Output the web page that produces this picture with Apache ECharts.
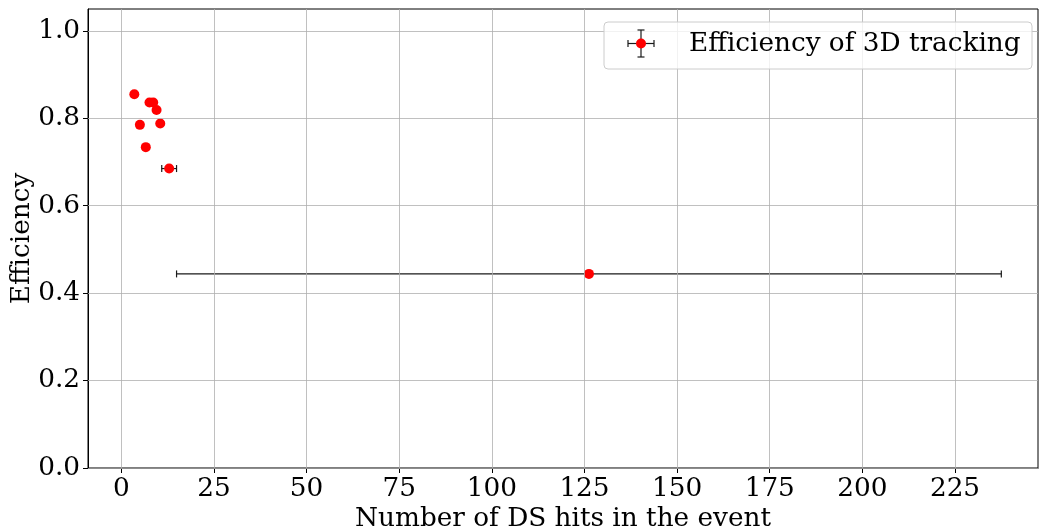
<!DOCTYPE html>
<html><head><meta charset="utf-8">
<script src="https://cdn.jsdelivr.net/npm/echarts@6/dist/echarts.min.js"></script>
<style>html,body{margin:0;padding:0;background:#fff}#c{width:1039px;height:531px}</style>
</head><body><div id="c"></div>
<script>
const xVals = [3.5, 5.0, 6.6, 7.6, 8.6, 9.5, 10.5, 12.9, 126.2];
const yVals = [0.855, 0.785, 0.734, 0.836, 0.836, 0.819, 0.788, 0.685, 0.444];
const xErr  = [0.5, 0.5, 0.5, 0.5, 0.5, 0.5, 0.5, 2.0, 111.3];
const yErr  = [0.004, 0.004, 0.004, 0.004, 0.004, 0.004, 0.004, 0.004, 0.002];
const xTicks = [0, 25, 50, 75, 100, 125, 150, 175, 200, 225];
const yTicks = [0.0, 0.2, 0.4, 0.6, 0.8, 1.0];
const seriesName = 'Efficiency of 3D tracking';

const FONT = 'DejaVu Serif';
const FS = 26.3;
const pts = xVals.map((x, i) => [x, yVals[i]]);
const errData = xVals.map((x, i) => [x, yVals[i], x - xErr[i], x + xErr[i], yVals[i] - yErr[i], yVals[i] + yErr[i]]);

const chart = echarts.init(document.getElementById('c'), null, {renderer: 'canvas'});
const cap = 3.5;
chart.setOption({
  animation: false,
  grid: {left: 88, right: 1, top: 9, bottom: 63, outerBoundsMode: 'none', containLabel: false,
    show: true, borderColor: '#000', borderWidth: 1, backgroundColor: 'transparent'},
  xAxis: {
    type: 'value', min: -9, max: 247.4,
    name: 'Number of DS hits in the event', nameLocation: 'middle', nameGap: 38, nameMoveOverlap: false,
    nameTextStyle: {fontFamily: FONT, fontSize: FS, color: '#000'},
    axisLine: {show: true, onZero: false, lineStyle: {color: '#000', width: 1}},
    axisTick: {show: true, length: 5, inside: false, customValues: xTicks, lineStyle: {color: '#000'}},
    axisLabel: {customValues: xTicks, fontFamily: FONT, fontSize: FS, color: '#000', margin: 8},
    splitLine: {show: false}
  },
  yAxis: {
    type: 'value', min: 0, max: 1.05,
    name: 'Efficiency', nameLocation: 'middle', nameGap: 53, nameMoveOverlap: false,
    nameTextStyle: {fontFamily: FONT, fontSize: FS, color: '#000'},
    axisLine: {show: true, onZero: false, lineStyle: {color: '#000', width: 1}},
    axisTick: {show: true, length: 5, customValues: yTicks, lineStyle: {color: '#000'}},
    axisLabel: {customValues: yTicks, fontFamily: FONT, fontSize: FS, color: '#000', margin: 8,
      formatter: v => Number(v).toFixed(1)},
    splitLine: {show: false}
  },
  series: [
    {
      type: 'line', silent: true, data: [],
      markLine: {
        silent: true, symbol: 'none', label: {show: false},
        lineStyle: {color: '#b0b0b0', width: 0.8, type: 'solid'},
        data: xTicks.map(v => ({xAxis: v})).concat(yTicks.map(v => ({yAxis: v})))
      }
    },
    {
      type: 'custom', name: seriesName, data: errData, z: 3,
      renderItem: function (params, api) {
        const y = api.value(1);
        const pl = api.coord([api.value(2), y]);
        const pr = api.coord([api.value(3), y]);
        const pb = api.coord([api.value(0), api.value(4)]);
        const pt = api.coord([api.value(0), api.value(5)]);
        const st = {stroke: '#1a1a1a', lineWidth: 1.2};
        return {type: 'group', children: [
          {type: 'line', shape: {x1: pl[0], y1: pl[1], x2: pr[0], y2: pr[1]}, style: st},
          {type: 'line', shape: {x1: pl[0], y1: pl[1] - cap, x2: pl[0], y2: pl[1] + cap}, style: st},
          {type: 'line', shape: {x1: pr[0], y1: pr[1] - cap, x2: pr[0], y2: pr[1] + cap}, style: st},
          {type: 'line', shape: {x1: pb[0], y1: pb[1], x2: pt[0], y2: pt[1]}, style: st}
        ]};
      }
    },
    {
      type: 'scatter', name: seriesName, data: pts, symbol: 'circle', symbolSize: 10, z: 4,
      itemStyle: {color: '#ff0000', opacity: 1}
    }
  ],
  graphic: [
    {type: 'rect', shape: {x: 604, y: 22, width: 428, height: 47, r: 4},
      style: {fill: 'rgba(255,255,255,0.8)', stroke: '#cccccc', lineWidth: 1}, z: 10},
    {type: 'line', shape: {x1: 628, y1: 43.5, x2: 654, y2: 43.5}, style: {stroke: '#1a1a1a', lineWidth: 1.2}, z: 11},
    {type: 'line', shape: {x1: 641, y1: 30, x2: 641, y2: 57}, style: {stroke: '#1a1a1a', lineWidth: 1.2}, z: 11},
    {type: 'line', shape: {x1: 628, y1: 40, x2: 628, y2: 47}, style: {stroke: '#1a1a1a', lineWidth: 1.2}, z: 11},
    {type: 'line', shape: {x1: 654, y1: 40, x2: 654, y2: 47}, style: {stroke: '#1a1a1a', lineWidth: 1.2}, z: 11},
    {type: 'line', shape: {x1: 637.5, y1: 30, x2: 644.5, y2: 30}, style: {stroke: '#1a1a1a', lineWidth: 1.2}, z: 11},
    {type: 'line', shape: {x1: 637.5, y1: 57, x2: 644.5, y2: 57}, style: {stroke: '#1a1a1a', lineWidth: 1.2}, z: 11},
    {type: 'circle', shape: {cx: 641, cy: 43.5, r: 5}, style: {fill: '#ff0000'}, z: 12},
    {type: 'text', x: 689, y: 44, style: {text: seriesName, font: FS + 'px "DejaVu Serif"', fill: '#000', verticalAlign: 'middle', align: 'left'}, z: 12}
  ]
});
</script></body></html>
